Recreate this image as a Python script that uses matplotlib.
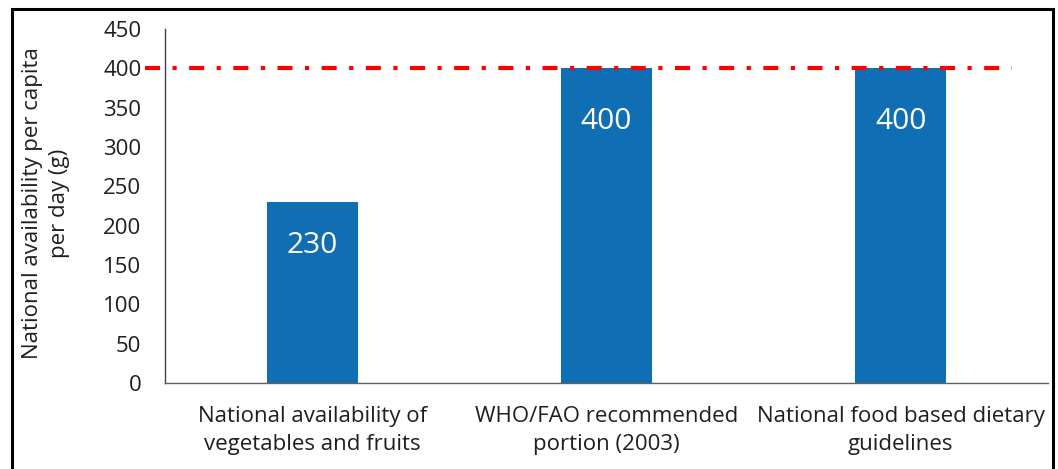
import matplotlib
matplotlib.use("Agg")
import matplotlib.pyplot as plt
from matplotlib.patches import Rectangle

# Data
categories = [
    "National availability of\nvegetables and fruits",
    "WHO/FAO recommended\nportion (2003)",
    "National food based dietary\nguidelines",
]
values = [230, 400, 400]
recommended = 400
yticks = [0, 50, 100, 150, 200, 250, 300, 350, 400, 450]
ylabel = "National availability per capita\nper day (g)"

# Style
bar_color = "#0F6EB4"
text_color = "#1f1f1f"
label_offsets_pt = [31, 38.5]  # distance of value label centre below bar top
plt.rcParams["font.family"] = ["Open Sans", "DejaVu Sans"]

W, H = 1058, 469
fig = plt.figure(figsize=(W / 100, H / 100), dpi=100)
ax = fig.add_axes([165 / W, 1 - 383 / H, (1048 - 165) / W, (383 - 29) / H])

x = list(range(len(categories)))
bars = ax.bar(x, values, width=0.31, color=bar_color, zorder=2)

for i, (b, v) in enumerate(zip(bars, values)):
    off = label_offsets_pt[0] if v < 300 else label_offsets_pt[1]
    ax.annotate(str(v), (b.get_x() + b.get_width() / 2, v),
                xytext=(0, -off), textcoords="offset points",
                ha="center", va="center", color="white", fontsize=21.5, zorder=3)

# Recommended-intake reference line
ax.plot([-0.568, 2.378], [recommended, recommended], color="#FF0000", lw=3,
        ls=(0, (3.6, 3.0, 1.0, 3.0)), solid_capstyle="butt", dash_capstyle="butt",
        clip_on=False, zorder=4)

ax.set_xlim(-0.5, 2.5)
ax.set_ylim(0, 450)
ax.set_yticks(yticks)
ax.set_xticks(x)
ax.set_xticklabels(categories, fontsize=16, color=text_color, linespacing=1.42)
ax.tick_params(axis="y", length=0, pad=17, labelsize=16, labelcolor=text_color)
ax.tick_params(axis="x", length=0, pad=16.5)

for s in ("top", "right"):
    ax.spines[s].set_visible(False)
ax.spines["left"].set_color("#404040")
ax.spines["left"].set_linewidth(1)
ax.spines["bottom"].set_color("#606060")
ax.spines["bottom"].set_linewidth(1)

fig.text(46 / W, 1 - 203 / H, ylabel, rotation=90, ha="center", va="center",
         fontsize=16, color=text_color, linespacing=1.35, multialignment="center")

# Frame around the chart
fig.patches.append(Rectangle((12 / W, -0.1), (1053 - 12) / W, 1.1 - 9 / H,
                             transform=fig.transFigure, fill=False,
                             edgecolor="black", linewidth=2.2, zorder=10))

fig.savefig("out.png", dpi=100)
